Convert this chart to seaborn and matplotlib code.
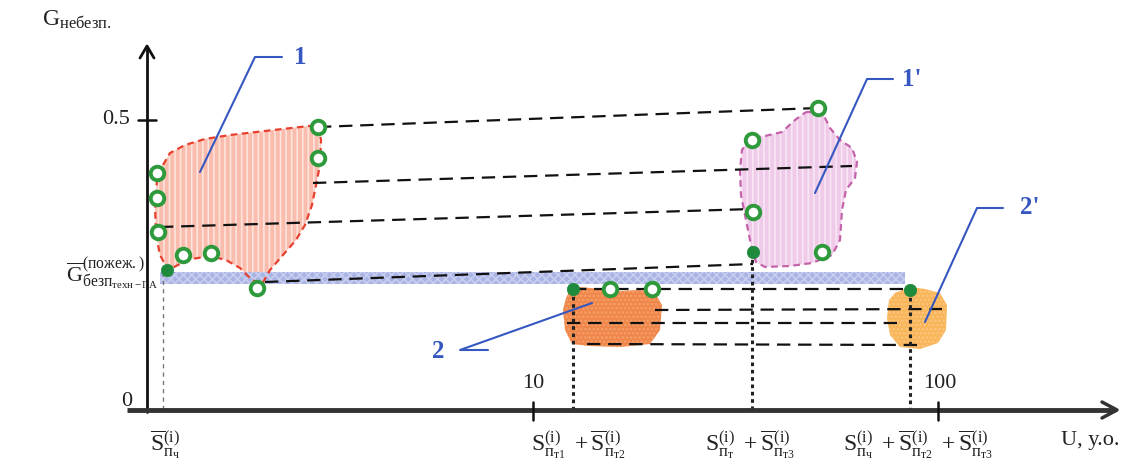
import matplotlib
matplotlib.use("Agg")
import matplotlib.pyplot as plt
import seaborn as sns
import pandas as pd

# ---------------- data (schematic canvas units: x to the right, y downward) ----------------
# y-axis tick positions / labels
y_ticks_pos = [120, 410]
y_tick_labels = ["0.5", "0"]
# x-axis tick positions / labels
x_ticks_pos = [533, 938]
x_tick_labels = ["10", "100"]

# region outlines
blob1_x = [163, 170, 185, 205, 230, 265, 300, 318, 321, 320, 316, 312, 305, 296, 283, 270, 262, 252, 240, 226, 210, 192, 178, 168, 160, 156, 155, 157]
blob1_y = [165, 153, 145, 139, 135, 131, 127, 125, 140, 165, 185, 205, 225, 240, 255, 270, 284, 280, 268, 260, 256, 259, 265, 270, 255, 235, 205, 180]
blob1p_x = [806, 822, 830, 840, 852, 857, 855, 846, 842, 840, 832, 812, 790, 765, 756, 751, 746, 741, 740, 742, 750, 765, 782, 795]
blob1p_y = [112, 112, 128, 140, 148, 162, 178, 190, 210, 240, 255, 263, 266, 267, 262, 245, 220, 195, 170, 150, 138, 136, 132, 120]
blob2_x = [570, 580, 600, 620, 640, 655, 662, 660, 650, 620, 590, 572, 565, 563, 566]
blob2_y = [290, 287, 289, 291, 290, 293, 305, 330, 344, 347, 346, 344, 330, 310, 298]
blob2p_x = [895, 910, 925, 940, 947, 946, 938, 920, 900, 890, 887, 889]
blob2p_y = [293, 287, 289, 293, 305, 330, 343, 349, 347, 335, 318, 300]

# threshold band
band_x = [160, 905]
band_y = [272, 284]

# markers
open_x = [318, 318, 157, 157, 158, 183, 211, 257, 818, 752, 753, 822, 610, 652]
open_y = [127, 158, 173, 198, 232, 255, 253, 288, 108, 140, 212, 252, 289, 289]
filled_x = [167, 753, 573, 910]
filled_y = [270, 252, 289, 290]

# dashed connectors (x0, y0, x1, y1)
conn_x0 = [318, 313, 160, 265, 573, 655, 567, 587]
conn_y0 = [127, 183, 227, 282, 289, 310, 323, 344]
conn_x1 = [818, 852, 752, 753, 910, 942, 897, 917]
conn_y1 = [108, 166, 209, 264, 289, 309, 323, 345]

# vertical projection lines
vline_x = [573, 752, 910]
vline_top = [289, 252, 290]

# leader labels
lead_text = ["1", "1'", "2", "2'"]
lead_tx = [300, 912, 438, 1030]
lead_ty = [57, 79, 352, 208]
lead_hx0 = [255, 867, 460, 977]
lead_hx1 = [282, 893, 488, 1003]
lead_hy = [57, 79, 350, 208]
lead_px = [200, 815, 592, 925]
lead_py = [172, 193, 303, 322]

# ---------------- drawing ----------------
sns.set_theme(style="white")
plt.rcParams["font.family"] = ["Liberation Serif", "DejaVu Serif"]
plt.rcParams["mathtext.fontset"] = "custom"
plt.rcParams["mathtext.rm"] = "Liberation Serif"
plt.rcParams["mathtext.it"] = "Liberation Serif:italic"
plt.rcParams["mathtext.bf"] = "Liberation Serif:bold"
plt.rcParams["hatch.linewidth"] = 1.2

fig = plt.figure(figsize=(11.46, 4.75), dpi=100)
ax = fig.add_axes([0, 0, 1, 1])
ax.set_xlim(0, 1146)
ax.set_ylim(475, 0)
ax.axis("off")

# regions
def blob(xs, ys, face, hatch, hcol, edge, ls):
    ax.fill(xs, ys, facecolor=face, edgecolor=hcol, hatch=hatch, linewidth=0, zorder=2)
    if edge is not None:
        ax.fill(xs + xs[:1], ys + ys[:1], facecolor="none", edgecolor=edge,
                linestyle=ls, linewidth=1.6, zorder=3)

blob(blob1_x, blob1_y, "#f9bcad", "|||", "#fde4dd", "#e8402e", (0, (3, 2)))
blob(blob1p_x, blob1p_y, "#efcbe9", "|||", "#f8e6f5", "#c463aa", (0, (3, 2)))
blob(blob2_x, blob2_y, "#f0874a", "....", "#f6a06c", None, None)
blob(blob2p_x, blob2p_y, "#f9b55a", "....", "#fbc77f", None, None)

# band
ax.fill_between(band_x, band_y[0], band_y[1], facecolor="#aab4e4",
                edgecolor="#c7cef0", hatch="xxxx", linewidth=0, zorder=2.5)

# dashed connectors
for x0, y0, x1, y1 in zip(conn_x0, conn_y0, conn_x1, conn_y1):
    ax.plot([x0, x1], [y0, y1], color="#111111", lw=1.6, ls=(0, (6, 3.5)), zorder=4)

# vertical projections
ax.plot([163, 163], [272, 410], color="#777777", lw=1.0, ls=(0, (3, 3)), zorder=4)
for vx, vt in zip(vline_x, vline_top):
    ax.plot([vx, vx], [vt, 410], color="#222222", lw=2.2, ls=(0, (1.2, 1.2)), zorder=4)

# markers
df_open = pd.DataFrame({"x": open_x, "y": open_y})
df_fill = pd.DataFrame({"x": filled_x, "y": filled_y})
sns.scatterplot(data=df_open, x="x", y="y", ax=ax, s=95, marker="o",
                facecolor="white", edgecolor="#2e9a3c", linewidth=2.8, zorder=6, legend=False)
sns.scatterplot(data=df_fill, x="x", y="y", ax=ax, s=80, marker="o",
                color="#1e8a3c", edgecolor="#1e8a3c", linewidth=0.5, zorder=6, legend=False)
ax.set_xlim(0, 1146)
ax.set_ylim(475, 0)
ax.axis("off")

# leaders
blue = "#3657c0"
for t, tx, ty, hx0, hx1, hy, px, py in zip(lead_text, lead_tx, lead_ty, lead_hx0, lead_hx1,
                                           lead_hy, lead_px, lead_py):
    ax.plot([hx1, hx0, px], [hy, hy, py], color=blue, lw=1.5, zorder=7)
    ax.text(tx, ty, t, color=blue, fontsize=18, fontweight="bold", ha="center", va="center", zorder=7)

# axes
ax.plot([147, 147], [412, 48], color="#111111", lw=2.0, zorder=5)
ax.plot([140, 147, 154], [58, 46, 58], color="#111111", lw=2.0, zorder=5)
ax.plot([127, 1115], [410, 410], color="#333333", lw=3.5, zorder=5, solid_capstyle="butt")
ax.plot([1102, 1117, 1102], [402, 410, 418], color="#333333", lw=2.5, zorder=5)
for yp, lab in zip(y_ticks_pos, y_tick_labels):
    if lab != "0":
        ax.plot([138, 156], [yp, yp], color="#111111", lw=1.8, zorder=5)
    ax.text(130 if lab != "0" else 132, yp if lab != "0" else 401, lab, fontsize=16,
            ha="right", va="center", color="#222222")
for xp, lab in zip(x_ticks_pos, x_tick_labels):
    ax.plot([xp, xp], [402, 420], color="#111111", lw=1.8, zorder=5)
ax.text(533, 383, x_tick_labels[0], fontsize=16, ha="center", va="center", color="#222222")
ax.text(940, 383, x_tick_labels[1], fontsize=16, ha="center", va="center", color="#222222")

# axis titles / labels
ax.text(42, 20, r"$\mathrm{G}_{\mathrm{небезп.}}$", fontsize=17, ha="left", va="center", color="#222222")
ax.text(66, 274, r"$\overline{\mathrm{G}}^{(\mathrm{пожеж.})}_{\mathrm{безп}_{\mathrm{техн}-\mathrm{ГА}}}$",
        fontsize=16, ha="left", va="center", color="#222222")

xl = [
    (165, r"$\overline{\mathrm{S}}^{\mathrm{(i)}}_{\mathrm{п}_{\mathrm{ч}}}$"),
    (578, r"$\mathrm{S}^{\mathrm{(i)}}_{\mathrm{п}_{\mathrm{т1}}}\ +\overline{\mathrm{S}}^{\mathrm{(i)}}_{\mathrm{п}_{\mathrm{т2}}}$"),
    (750, r"$\mathrm{S}^{\mathrm{(i)}}_{\mathrm{п}_{\mathrm{т}}}\ +\overline{\mathrm{S}}^{\mathrm{(i)}}_{\mathrm{п}_{\mathrm{т3}}}$"),
    (918, r"$\mathrm{S}^{\mathrm{(i)}}_{\mathrm{п}_{\mathrm{ч}}}\ +\overline{\mathrm{S}}^{\mathrm{(i)}}_{\mathrm{п}_{\mathrm{т2}}}\ +\overline{\mathrm{S}}^{\mathrm{(i)}}_{\mathrm{п}_{\mathrm{т3}}}$"),
]
for x, s in xl:
    ax.text(x, 445, s, fontsize=17, ha="center", va="center", color="#222222")
ax.text(1090, 440, "U, у.о.", fontsize=16, ha="center", va="center", color="#222222")

fig.savefig("out.png", dpi=100)
